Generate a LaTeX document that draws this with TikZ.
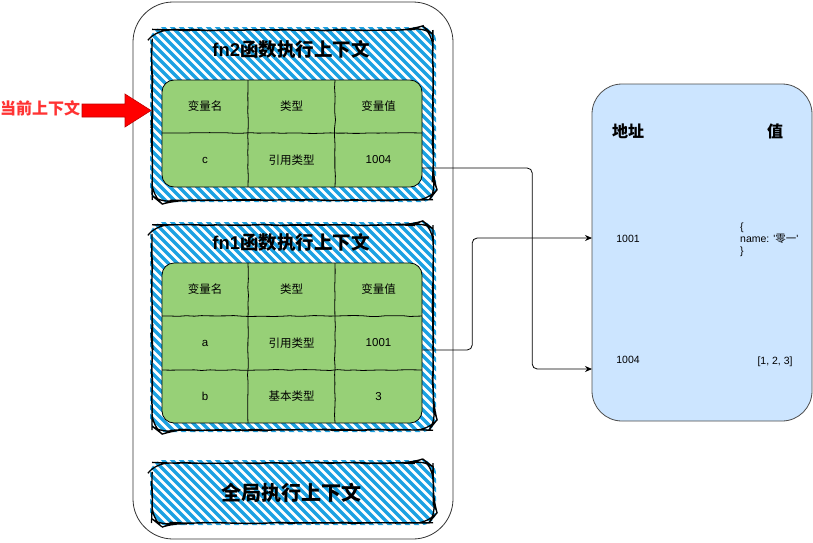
\documentclass[tikz,border=0pt]{standalone}
\usepackage{fontspec}
\setmainfont{Liberation Sans}
\newfontfamily\cjk{Noto Sans CJK SC}
\usepackage{tikz}
\definecolor{hatchblue}{HTML}{1BA1E2}
\definecolor{cellgreen}{HTML}{97D077}
\definecolor{heapblue}{HTML}{CCE5FF}
\definecolor{arrowred}{HTML}{FF0000}
\definecolor{labelred}{HTML}{FF3333}
\tikzset{hatchline/.style={hatchblue,line width=3.4pt,line cap=round},
         ctxline/.style={draw=black,line width=1.3pt,rounded corners=13pt,decorate,decoration={random steps,segment length=9pt,amplitude=0.5pt}},
         sketch/.style={draw=black,line width=0.8pt,decorate,decoration={random steps,segment length=8pt,amplitude=0.5pt}},
         cell/.style={minimum width=87pt,minimum height=53pt,inner sep=0pt,font=\fontsize{11.5}{13}\selectfont},
         conn/.style={draw=black,line width=0.8pt,rounded corners=5pt,-{Stealth[length=7pt,width=6pt]}}}
\usetikzlibrary{arrows.meta,decorations.pathmorphing,positioning}
% hand drawn hatching of a context box: #1,#2 top left, #3,#4 bottom right
\newcommand{\hatchbox}[4]{%
  \begin{scope}
  \clip [rounded corners=14pt] (#1-2,#2-3) rectangle (#3+3,#4+2);
  \foreach \k in {-234,-225,...,300} \draw [hatchline] (#1+\k,#2-5) -- ++(240,240);
  \end{scope}
  \draw [ctxline] (#1,#2) rectangle (#3,#4);}

\begin{document}
\begin{tikzpicture}[x=1pt,y=-1pt]
\useasboundingbox (0,0) rectangle (813,542);
% stack
\draw [black!80,line width=0.8pt,fill=white,rounded corners=40pt] (133,2) rectangle (453,539);
% fn2 context
\hatchbox{152}{30}{433}{200}
\draw (291,49) node [font=\fontsize{18.5}{20}\selectfont\bfseries] (fn2title) {fn2{\cjk 函数执行上下文}};
\draw [fill=cellgreen,line width=0.8pt,rounded corners=12pt] (162,80) rectangle (422,187);
\draw [sketch] (248,80) -- (248,187);
\draw [sketch] (335,80) -- (335,187);
\draw [sketch] (162,133) -- (422,133);
\draw (205,106.5) node [cell] (f2n0) {\cjk 变量名};
\draw (291.5,106.5) node [cell] (f2t0) {\cjk 类型};
\draw (378.5,106.5) node [cell] (f2v0) {\cjk 变量值};
\draw (205,160) node [cell] (f2n1) {c};
\draw (291.5,160) node [cell] (f2t1) {\cjk 引用类型};
\draw (378.5,160) node [cell] (f2v1) {1004};
% fn1 context
\hatchbox{152}{225}{433}{430}
\draw (291,242) node [font=\fontsize{18.5}{20}\selectfont\bfseries] (fn1title) {fn1{\cjk 函数执行上下文}};
\draw [fill=cellgreen,line width=0.8pt,rounded corners=12pt] (162,263) rectangle (422,423);
\draw [sketch] (248,263) -- (248,423);
\draw [sketch] (335,263) -- (335,423);
\draw [sketch] (162,316) -- (422,316);
\draw [sketch] (162,370) -- (422,370);
\draw (205,289.5) node [cell] (f1n0) {\cjk 变量名};
\draw (291.5,289.5) node [cell] (f1t0) {\cjk 类型};
\draw (378.5,289.5) node [cell] (f1v0) {\cjk 变量值};
\draw (205,343) node [cell] (f1n1) {a};
\draw (291.5,343) node [cell] (f1t1) {\cjk 引用类型};
\draw (378.5,343) node [cell] (f1v1) {1001};
\draw (205,396.5) node [cell] (f1n2) {b};
\draw (291.5,396.5) node [cell] (f1t2) {\cjk 基本类型};
\draw (378.5,396.5) node [cell] (f1v2) {3};
% global context
\hatchbox{152}{463}{433}{523}
\draw (291,493) node [font=\fontsize{20}{22}\selectfont\bfseries\cjk] (gtitle) {全局执行上下文};
% current pointer
\draw [fill=arrowred,draw=arrowred!75!black,line width=0.6pt] (82,104) -- (125,104) -- (125,94) -- (151,110.5) -- (125,127) -- (125,117) -- (82,117) -- cycle;
\draw (40,108) node [text=labelred,font=\fontsize{16}{18}\selectfont\bfseries\cjk] (cur) {当前上下文};
% heap
\draw [draw=black!70,line width=0.8pt,fill=heapblue,rounded corners=30pt] (592,84) rectangle (812,421);
\draw (628,131) node [font=\fontsize{16}{18}\selectfont\bfseries\cjk] (addrhead) {地址};
\draw (775,131) node [font=\fontsize{16}{18}\selectfont\bfseries\cjk] (valhead) {值};
\draw (628,239) node [font=\fontsize{10.5}{12}\selectfont] (addr1001) {1001};
\draw (740,240) node [anchor=west,align=left,inner sep=0pt,font=\fontsize{10.5}{12}\selectfont] (val1001) {\{\\name: \textquotesingle{\cjk 零一}\textquotesingle\\\}};
\draw (628,360) node [font=\fontsize{10.5}{12}\selectfont] (addr1004) {1004};
\draw (775,362) node [font=\fontsize{10.5}{12}\selectfont] (val1004) {[1, 2, 3]};
\coordinate (in1001) at (592,238);
\coordinate (in1004) at (592,369);
% references
\draw [conn] ([yshift=-8pt]f2v1.east) -- ++(110,0) |- (in1004);
\draw [conn] ([yshift=-7pt]f1v1.east) -- ++(50,0) |- (in1001);
\end{tikzpicture}
\end{document}
